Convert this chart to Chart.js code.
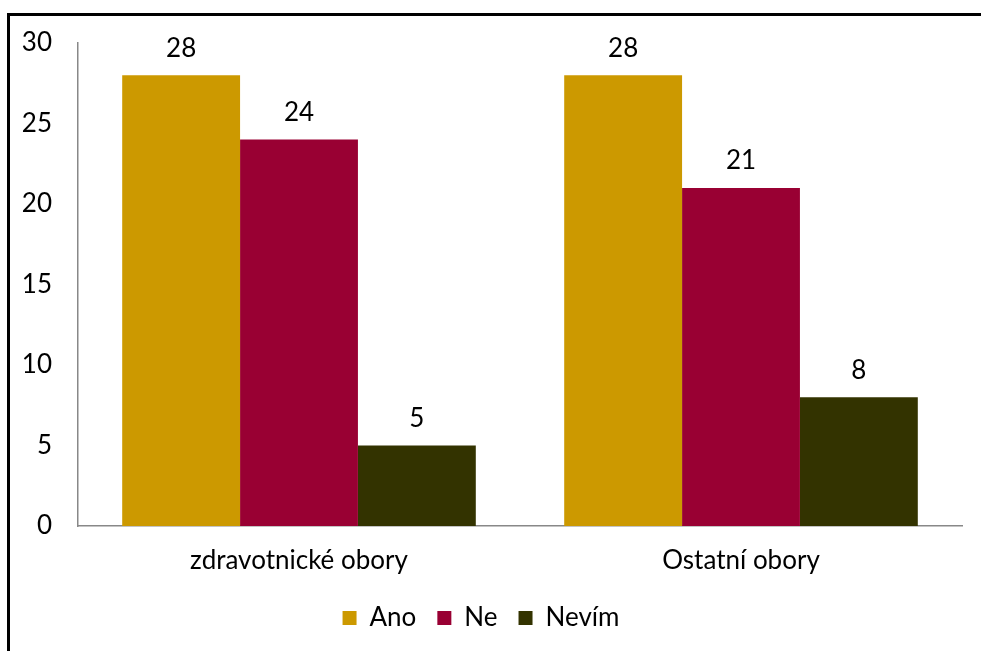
<!DOCTYPE html>
<html>
<head>
<meta charset="utf-8">
<script src="https://cdn.jsdelivr.net/npm/chart.js@4"></script>
<style>
  html, body { margin: 0; padding: 0; background: #fff; }
  .wrap { position: relative; width: 981px; height: 651px; overflow: hidden; }
  .frame { position: absolute; left: 7px; top: 13px; right: -10px; bottom: -10px;
           border-left: 3px solid #000; border-top: 3px solid #000; pointer-events: none; }
  canvas { position: absolute; left: 0; top: 0; }
</style>
</head>
<body>
<div class="wrap">
  <canvas id="chart" width="981" height="651"></canvas>
  <div class="frame"></div>
</div>
<script>
const categories = ['zdravotnické obory', 'Ostatní obory'];
const ano = [28, 28];
const ne = [24, 21];
const nevim = [5, 8];
const yTicks = [0, 5, 10, 15, 20, 25, 30];

const FONT = 'Lato, "Open Sans", sans-serif';
const SIZE = 26;

// hodnoty nad sloupci
const valueLabels = {
  id: 'valueLabels',
  afterDatasetsDraw(chart) {
    const ctx = chart.ctx;
    ctx.save();
    ctx.fillStyle = '#000';
    ctx.font = SIZE + 'px ' + FONT;
    ctx.textAlign = 'center';
    ctx.textBaseline = 'middle';
    chart.data.datasets.forEach((ds, i) => {
      chart.getDatasetMeta(i).data.forEach((bar, j) => {
        ctx.fillText(ds.data[j], bar.x, bar.y - 27);
      });
    });
    ctx.restore();
  }
};

new Chart(document.getElementById('chart'), {
  type: 'bar',
  data: {
    labels: categories,
    datasets: [
      { label: 'Ano', data: ano, backgroundColor: '#CC9900' },
      { label: 'Ne', data: ne, backgroundColor: '#990033' },
      { label: 'Nevím', data: nevim, backgroundColor: '#333300' }
    ]
  },
  options: {
    responsive: false,
    animation: false,
    categoryPercentage: 0.8,
    barPercentage: 1.0,
    layout: { padding: { top: 43, right: 19, left: 0, bottom: 10 } },
    plugins: {
      legend: {
        position: 'bottom',
        labels: {
          color: '#000',
          font: { family: FONT, size: SIZE },
          boxWidth: 14,
          boxHeight: 14,
          padding: 21
        }
      },
      tooltip: { enabled: false }
    },
    scales: {
      x: {
        grid: { display: false, drawTicks: false },
        border: { display: true, color: '#888', width: 1.5 },
        ticks: { color: '#000', font: { family: FONT, size: SIZE }, padding: 19 },
        afterFit(scale) { scale.height = 58; }
      },
      y: {
        min: 0,
        max: 30,
        afterBuildTicks(scale) { scale.ticks = yTicks.map(v => ({ value: v })); },
        grid: { display: false, drawTicks: false },
        border: { display: true, color: '#888', width: 1.5 },
        ticks: { color: '#000', font: { family: FONT, size: SIZE }, padding: 26 },
        afterFit(scale) { scale.width = 78; }
      }
    }
  },
  plugins: [valueLabels]
});
</script>
</body>
</html>
